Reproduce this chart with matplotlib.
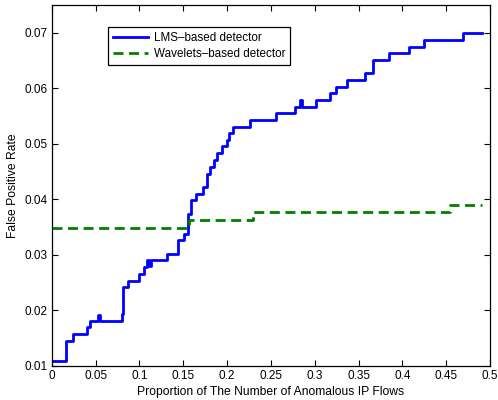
import matplotlib
matplotlib.use("Agg")
import matplotlib.pyplot as plt

plt.rcParams['font.family'] = ['Liberation Sans', 'DejaVu Sans']

# LMS-based detector (step breakpoints)
lms_x = [0.0, 0.016, 0.0247, 0.040, 0.0437, 0.0530, 0.0550, 0.0798, 0.0817, 0.0867,
         0.099, 0.1057, 0.109, 0.111, 0.113, 0.131, 0.1437, 0.1513, 0.155, 0.1586,
         0.164, 0.172, 0.177, 0.1806, 0.185, 0.189, 0.194, 0.2004, 0.2025, 0.2065,
         0.226, 0.256, 0.2776, 0.2835, 0.2860, 0.3015, 0.3175, 0.3243, 0.3365, 0.3574,
         0.367, 0.385, 0.407, 0.4247, 0.4696, 0.4905]
lms_y = [0.0108, 0.0145, 0.0157, 0.0169, 0.0181, 0.0192, 0.0181, 0.0194, 0.0241, 0.0253,
         0.0266, 0.0278, 0.0290, 0.0279, 0.0290, 0.0301, 0.0326, 0.0337, 0.0374, 0.0398,
         0.0410, 0.0422, 0.0446, 0.0458, 0.0470, 0.0483, 0.0495, 0.0507, 0.0519, 0.0531,
         0.0543, 0.0555, 0.0567, 0.0579, 0.0567, 0.0579, 0.0591, 0.0603, 0.0615, 0.0627,
         0.0651, 0.0663, 0.0675, 0.0687, 0.0699, 0.0699]

# Wavelets-based detector
wav_x = [0.0, 0.1567, 0.229, 0.454, 0.4905]
wav_y = [0.0349, 0.0363, 0.0377, 0.0390, 0.0390]

x_ticks = [0, 0.05, 0.1, 0.15, 0.2, 0.25, 0.3, 0.35, 0.4, 0.45, 0.5]
x_tick_labels = ['0', '0.05', '0.1', '0.15', '0.2', '0.25', '0.3', '0.35', '0.4', '0.45', '0.5']
y_ticks = [0.01, 0.02, 0.03, 0.04, 0.05, 0.06, 0.07]
y_tick_labels = ['0.01', '0.02', '0.03', '0.04', '0.05', '0.06', '0.07']

fig = plt.figure(figsize=(4.98, 4.0), dpi=100)
ax = fig.add_axes([0.104, 0.0858, 0.880, 0.9017])

ax.plot(lms_x, lms_y, drawstyle='steps-post', color='#0000ff', lw=2.0,
        label='LMS\u2013based detector')
ax.plot(wav_x, wav_y, drawstyle='steps-post', color='#008000', lw=2.0,
        linestyle=(0, (3.6, 2.0)), label='Wavelets\u2013based detector')

ax.set_xlim(0, 0.5)
ax.set_ylim(0.01, 0.075)
ax.set_xticks(x_ticks)
ax.set_xticklabels(x_tick_labels)
ax.set_yticks(y_ticks)
ax.set_yticklabels(y_tick_labels)
ax.tick_params(direction='in', top=True, right=True, labelsize=8.5, length=4, width=0.8, pad=3)
for s in ax.spines.values():
    s.set_linewidth(0.9)

ax.set_xlabel('Proportion of The Number of Anomalous IP Flows', fontsize=8.7, labelpad=3)
ax.set_ylabel('False Positive Rate', fontsize=8.7, labelpad=4)

leg = ax.legend(loc='upper left', bbox_to_anchor=(0.128, 0.939), fontsize=8.4,
                frameon=True, fancybox=False, edgecolor='black', framealpha=1,
                borderpad=0.42, handlelength=3.0, labelspacing=0.38, handletextpad=0.5,
                borderaxespad=0)
leg.get_frame().set_linewidth(0.9)

fig.savefig('out.png', dpi=100)
